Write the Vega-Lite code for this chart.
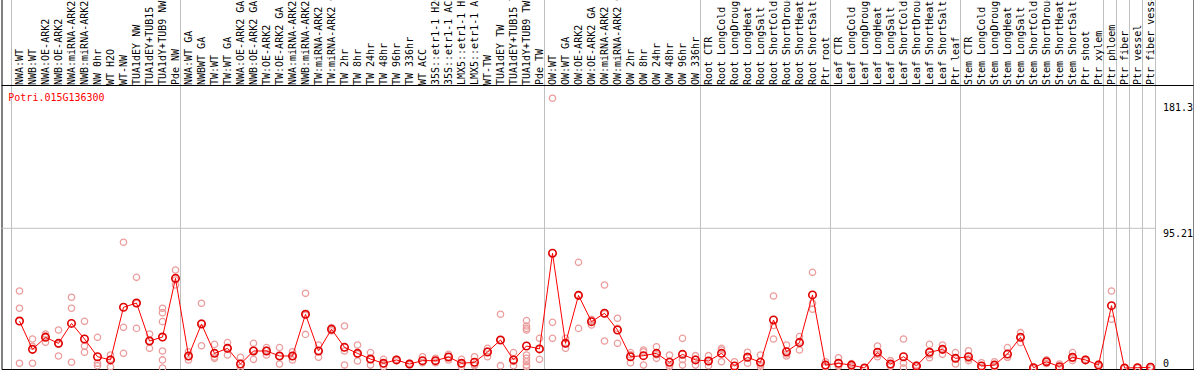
{
"$schema": "https://vega.github.io/schema/vega-lite/v6.json",
"width": 1192, "height": 370,
"autosize": {"type": "none"},
"padding": {"left": 1.5, "top": -1, "right": 0.5, "bottom": 1},
"background": "white",
"config": {"view": {"stroke": "black", "strokeWidth": 1, "fill": "white"}, "font": "DejaVu Sans Mono"},
"title": {"text": "Potri.015G136300", "orient": "bottom", "anchor": "start", "frame": "group", "offset": -282, "dx": 6.8, "color": "#ff0000", "font": "DejaVu Sans Mono", "fontSize": 10, "fontWeight": "normal", "baseline": "top"},
"datasets": {
"bounds": [{"b":0},{"b":13},{"b":41},{"b":53},{"b":63},{"b":73},{"b":84},{"b":85},{"b":86},{"b":87},{"b":88}],
"means": [
{"s":"NWA:WT","v":32.0},{"s":"NWB:WT","v":12.7},{"s":"NWA:OE-ARK2","v":20.9},{"s":"NWB:OE-ARK2","v":16.8},{"s":"NWA:miRNA-ARK2","v":30.4},{"s":"NWB:miRNA-ARK2","v":19.8},{"s":"NW 0hr","v":7.7},{"s":"WT H2O","v":5.5},{"s":"WT-NW","v":41.4},{"s":"TUA1dEY NW","v":44.3},{"s":"TUA1dEY+TUB15 NW","v":18.4},{"s":"TUA1dY+TUB9 NW","v":21.1},{"s":"Pde NW","v":61.1},
{"s":"NWA:WT GA","v":8.2},{"s":"NWBWT GA","v":30.0},{"s":"TW:WT","v":10.0},{"s":"TW:WT GA","v":13.4},{"s":"NWA:OE-ARK2 GA","v":2.7},{"s":"NWB:OE-ARK2 GA","v":11.6},{"s":"TW:OE-ARK2","v":11.6},{"s":"TW:OE-ARK2 GA","v":8.2},{"s":"NWA:miRNA-ARK2 GA","v":8.2},{"s":"NWB:miRNA-ARK2 GA","v":36.6},{"s":"TW:miRNA-ARK2","v":11.6},{"s":"TW:miRNA-ARK2 GA","v":26.4},{"s":"TW 2hr","v":14.1},{"s":"TW 8hr","v":10.0},{"s":"TW 24hr","v":6.1},{"s":"TW 48hr","v":3.2},{"s":"TW 96hr","v":5.5},{"s":"TW 336hr","v":2.7},{"s":"WT ACC","v":5.0},{"s":"35S::etr1-1 H2O","v":5.0},{"s":"35S::etr1-1 ACC","v":7.5},{"s":"LMX5::etr1-1 H2O","v":3.2},{"s":"LMX5::etr1-1 ACC","v":3.9},{"s":"WT-TW","v":10.9},{"s":"TUA1dEY TW","v":19.1},{"s":"TUA1dEY+TUB15 TW","v":5.5},{"s":"TUA1dY+TUB9 TW","v":15.0},{"s":"Pde TW","v":13.0},
{"s":"OW:WT","v":78.2},{"s":"OW:WT GA","v":16.8},{"s":"OW:OE-ARK2","v":49.5},{"s":"OW:OE-ARK2 GA","v":31.6},{"s":"OW:miRNA-ARK2","v":37.3},{"s":"OW:miRNA-ARK2 GA","v":25.9},{"s":"OW 2hr","v":7.7},{"s":"OW 8hr","v":8.4},{"s":"OW 24hr","v":10.0},{"s":"OW 48hr","v":3.9},{"s":"OW 96hr","v":9.3},{"s":"OW 336hr","v":5.5},
{"s":"Root CTR","v":4.8},{"s":"Root LongCold","v":10.0},{"s":"Root LongDrought","v":1.4},{"s":"Root LongHeat","v":7.3},{"s":"Root LongSalt","v":3.9},{"s":"Root ShortCold","v":32.7},{"s":"Root ShortDrought","v":11.1},{"s":"Root ShortHeat","v":17.3},{"s":"Root ShortSalt","v":49.8},{"s":"Ptr root","v":2.0},
{"s":"Leaf CTR","v":3.2},{"s":"Leaf LongCold","v":2.0},{"s":"Leaf LongDrought","v":0},{"s":"Leaf LongHeat","v":10.7},{"s":"Leaf LongSalt","v":2.7},{"s":"Leaf ShortCold","v":7.7},{"s":"Leaf ShortDrought","v":1.4},{"s":"Leaf ShortHeat","v":10.7},{"s":"Leaf ShortSalt","v":12.7},{"s":"Ptr leaf","v":6.6},
{"s":"Stem CTR","v":7.7},{"s":"Stem LongCold","v":1.4},{"s":"Stem LongDrought","v":2.0},{"s":"Stem LongHeat","v":9.5},{"s":"Stem LongSalt","v":20.9},{"s":"Stem ShortCold","v":0.2},{"s":"Stem ShortDrought","v":4.3},{"s":"Stem ShortHeat","v":0.9},{"s":"Stem ShortSalt","v":7.3},{"s":"Ptr shoot","v":5.5},{"s":"Ptr xylem","v":2.0},
{"s":"Ptr phloem","v":42.5},{"s":"Ptr fiber","v":0},{"s":"Ptr vessel","v":0.2},{"s":"Ptr fiber vessel","v":0.5}
],
"reps": [
{"s":"NWA:WT","v":52.5},{"s":"NWA:WT","v":40.7},{"s":"NWA:WT","v":3.2},
{"s":"NWB:WT","v":19.8},{"s":"NWB:WT","v":14.8},{"s":"NWB:WT","v":3.2},
{"s":"NWA:OE-ARK2","v":23.2},{"s":"NWA:OE-ARK2","v":22.0},{"s":"NWA:OE-ARK2","v":17.5},
{"s":"NWB:OE-ARK2","v":25.9},{"s":"NWB:OE-ARK2","v":16.3},{"s":"NWB:OE-ARK2","v":8.2},
{"s":"NWA:miRNA-ARK2","v":48.2},{"s":"NWA:miRNA-ARK2","v":40.7},{"s":"NWA:miRNA-ARK2","v":3.9},
{"s":"NWB:miRNA-ARK2","v":31.8},{"s":"NWB:miRNA-ARK2","v":15.0},{"s":"NWB:miRNA-ARK2","v":10.7},
{"s":"NW 0hr","v":20.9},{"s":"NW 0hr","v":3.2},{"s":"NW 0hr","v":1.6},
{"s":"WT H2O","v":8.9},{"s":"WT H2O","v":5.9},{"s":"WT H2O","v":0.9},
{"s":"WT-NW","v":85.7},{"s":"WT-NW","v":27.7},{"s":"WT-NW","v":10.0},
{"s":"TUA1dEY NW","v":61.8},{"s":"TUA1dEY NW","v":44.0},{"s":"TUA1dEY NW","v":27.0},
{"s":"TUA1dEY+TUB15 NW","v":23.2},{"s":"TUA1dEY+TUB15 NW","v":18.4},{"s":"TUA1dEY+TUB15 NW","v":13.4},
{"s":"TUA1dY+TUB9 NW","v":40.7},{"s":"TUA1dY+TUB9 NW","v":37.7},{"s":"TUA1dY+TUB9 NW","v":31.6},{"s":"TUA1dY+TUB9 NW","v":11.6},{"s":"TUA1dY+TUB9 NW","v":5.5},{"s":"TUA1dY+TUB9 NW","v":0},
{"s":"Pde NW","v":66.8},{"s":"Pde NW","v":60.0},{"s":"Pde NW","v":56.6},
{"s":"NWA:WT GA","v":11.1},{"s":"NWA:WT GA","v":8.0},{"s":"NWA:WT GA","v":5.5},
{"s":"NWBWT GA","v":44.1},{"s":"NWBWT GA","v":30.7},{"s":"NWBWT GA","v":15.2},
{"s":"TW:WT","v":16.1},{"s":"TW:WT","v":7.5},{"s":"TW:WT","v":6.6},
{"s":"TW:WT GA","v":17.3},{"s":"TW:WT GA","v":14.0},{"s":"TW:WT GA","v":8.9},
{"s":"NWA:OE-ARK2 GA","v":7.3},{"s":"NWA:OE-ARK2 GA","v":0.5},{"s":"NWA:OE-ARK2 GA","v":0.3},
{"s":"NWB:OE-ARK2 GA","v":16.8},{"s":"NWB:OE-ARK2 GA","v":12.1},{"s":"NWB:OE-ARK2 GA","v":5.9},
{"s":"TW:OE-ARK2","v":13.9},{"s":"TW:OE-ARK2","v":12.0},{"s":"TW:OE-ARK2","v":8.9},
{"s":"TW:OE-ARK2 GA","v":13.9},{"s":"TW:OE-ARK2 GA","v":8.0},{"s":"TW:OE-ARK2 GA","v":2.7},
{"s":"NWA:miRNA-ARK2 GA","v":11.1},{"s":"NWA:miRNA-ARK2 GA","v":8.0},{"s":"NWA:miRNA-ARK2 GA","v":5.5},
{"s":"NWB:miRNA-ARK2 GA","v":50.9},{"s":"NWB:miRNA-ARK2 GA","v":36.0},{"s":"NWB:miRNA-ARK2 GA","v":22.9},
{"s":"TW:miRNA-ARK2","v":15.7},{"s":"TW:miRNA-ARK2","v":11.8},{"s":"TW:miRNA-ARK2","v":7.3},
{"s":"TW:miRNA-ARK2 GA","v":27.5},{"s":"TW:miRNA-ARK2 GA","v":26.4},{"s":"TW:miRNA-ARK2 GA","v":25.3},
{"s":"TW 2hr","v":28.6},{"s":"TW 2hr","v":11.6},{"s":"TW 2hr","v":2.0},
{"s":"TW 8hr","v":15.7},{"s":"TW 8hr","v":9.5},{"s":"TW 8hr","v":4.8},
{"s":"TW 24hr","v":10.5},{"s":"TW 24hr","v":5.8},{"s":"TW 24hr","v":2.0},
{"s":"TW 48hr","v":5.9},{"s":"TW 48hr","v":2.8},{"s":"TW 48hr","v":0.9},
{"s":"TW 96hr","v":6.0},{"s":"TW 96hr","v":5.5},{"s":"TW 96hr","v":5.0},
{"s":"TW 336hr","v":3.2},{"s":"TW 336hr","v":2.7},{"s":"TW 336hr","v":2.2},
{"s":"WT ACC","v":7.7},{"s":"WT ACC","v":3.8},{"s":"WT ACC","v":3.6},
{"s":"35S::etr1-1 H2O","v":6.6},{"s":"35S::etr1-1 H2O","v":4.8},{"s":"35S::etr1-1 H2O","v":3.6},
{"s":"35S::etr1-1 ACC","v":9.3},{"s":"35S::etr1-1 ACC","v":7.7},{"s":"35S::etr1-1 ACC","v":5.5},
{"s":"LMX5::etr1-1 H2O","v":5.9},{"s":"LMX5::etr1-1 H2O","v":2.8},{"s":"LMX5::etr1-1 H2O","v":0.9},
{"s":"LMX5::etr1-1 ACC","v":7.7},{"s":"LMX5::etr1-1 ACC","v":2.4},{"s":"LMX5::etr1-1 ACC","v":1.6},
{"s":"WT-TW","v":13.4},{"s":"WT-TW","v":11.6},{"s":"WT-TW","v":7.7},
{"s":"TUA1dEY TW","v":36.6},{"s":"TUA1dEY TW","v":19.1},{"s":"TUA1dEY TW","v":1.6},
{"s":"TUA1dEY+TUB15 TW","v":10.5},{"s":"TUA1dEY+TUB15 TW","v":4.4},{"s":"TUA1dEY+TUB15 TW","v":1.6},
{"s":"TUA1dY+TUB9 TW","v":32.3},{"s":"TUA1dY+TUB9 TW","v":28.6},{"s":"TUA1dY+TUB9 TW","v":27.0},{"s":"TUA1dY+TUB9 TW","v":25.9},{"s":"TUA1dY+TUB9 TW","v":8.9},{"s":"TUA1dY+TUB9 TW","v":6.6},{"s":"TUA1dY+TUB9 TW","v":4.3},{"s":"TUA1dY+TUB9 TW","v":2.0},{"s":"TUA1dY+TUB9 TW","v":0.9},
{"s":"Pde TW","v":20.2},{"s":"Pde TW","v":13.0},{"s":"Pde TW","v":5.9},
{"s":"OW:WT","v":183.8},{"s":"OW:WT","v":31.1},{"s":"OW:WT","v":20.2},
{"s":"OW:WT GA","v":20.2},{"s":"OW:WT GA","v":16.8},{"s":"OW:WT GA","v":13.4},
{"s":"OW:OE-ARK2","v":72.0},{"s":"OW:OE-ARK2","v":49.5},{"s":"OW:OE-ARK2","v":27.0},
{"s":"OW:OE-ARK2 GA","v":33.2},{"s":"OW:OE-ARK2 GA","v":32.3},{"s":"OW:OE-ARK2 GA","v":29.3},
{"s":"OW:miRNA-ARK2","v":56.6},{"s":"OW:miRNA-ARK2","v":37.0},{"s":"OW:miRNA-ARK2","v":18.4},
{"s":"OW:miRNA-ARK2 GA","v":33.9},{"s":"OW:miRNA-ARK2 GA","v":27.0},{"s":"OW:miRNA-ARK2 GA","v":16.8},
{"s":"OW 2hr","v":10.5},{"s":"OW 2hr","v":9.0},{"s":"OW 2hr","v":3.6},
{"s":"OW 8hr","v":12.3},{"s":"OW 8hr","v":11.0},{"s":"OW 8hr","v":2.0},
{"s":"OW 24hr","v":14.5},{"s":"OW 24hr","v":9.0},{"s":"OW 24hr","v":6.6},
{"s":"OW 48hr","v":8.9},{"s":"OW 48hr","v":1.9},{"s":"OW 48hr","v":0.9},
{"s":"OW 96hr","v":20.2},{"s":"OW 96hr","v":5.7},{"s":"OW 96hr","v":2.0},
{"s":"OW 336hr","v":8.4},{"s":"OW 336hr","v":6.1},{"s":"OW 336hr","v":2.0},
{"s":"Root CTR","v":8.4},{"s":"Root CTR","v":4.4},{"s":"Root CTR","v":1.6},
{"s":"Root LongCold","v":13.4},{"s":"Root LongCold","v":12.3},{"s":"Root LongCold","v":4.3},
{"s":"Root LongDrought","v":4.3},{"s":"Root LongDrought","v":0},{"s":"Root LongDrought","v":0},
{"s":"Root LongHeat","v":10.7},{"s":"Root LongHeat","v":8.0},{"s":"Root LongHeat","v":3.2},
{"s":"Root LongSalt","v":8.9},{"s":"Root LongSalt","v":2.0},{"s":"Root LongSalt","v":0.8},
{"s":"Root ShortCold","v":49.1},{"s":"Root ShortCold","v":29.0},{"s":"Root ShortCold","v":19.8},
{"s":"Root ShortDrought","v":15.7},{"s":"Root ShortDrought","v":9.5},{"s":"Root ShortDrought","v":8.2},
{"s":"Root ShortHeat","v":21.4},{"s":"Root ShortHeat","v":18.2},{"s":"Root ShortHeat","v":12.3},
{"s":"Root ShortSalt","v":65.2},{"s":"Root ShortSalt","v":44.1},{"s":"Root ShortSalt","v":40.0},
{"s":"Ptr root","v":4.3},{"s":"Ptr root","v":1.0},{"s":"Ptr root","v":0.7},
{"s":"Leaf CTR","v":7.0},{"s":"Leaf CTR","v":1.5},{"s":"Leaf CTR","v":1.1},
{"s":"Leaf LongCold","v":3.0},{"s":"Leaf LongCold","v":2.0},{"s":"Leaf LongCold","v":1.0},
{"s":"Leaf LongDrought","v":0.2},{"s":"Leaf LongDrought","v":0},{"s":"Leaf LongDrought","v":0},
{"s":"Leaf LongHeat","v":15.0},{"s":"Leaf LongHeat","v":9.4},{"s":"Leaf LongHeat","v":7.7},
{"s":"Leaf LongSalt","v":5.0},{"s":"Leaf LongSalt","v":2.0},{"s":"Leaf LongSalt","v":1.1},
{"s":"Leaf ShortCold","v":19.8},{"s":"Leaf ShortCold","v":3.3},{"s":"Leaf ShortCold","v":0},
{"s":"Leaf ShortDrought","v":2.0},{"s":"Leaf ShortDrought","v":1.4},{"s":"Leaf ShortDrought","v":0.8},
{"s":"Leaf ShortHeat","v":16.1},{"s":"Leaf ShortHeat","v":9.0},{"s":"Leaf ShortHeat","v":7.0},
{"s":"Leaf ShortSalt","v":15.7},{"s":"Leaf ShortSalt","v":13.1},{"s":"Leaf ShortSalt","v":9.3},
{"s":"Ptr leaf","v":10.5},{"s":"Ptr leaf","v":6.6},{"s":"Ptr leaf","v":2.7},
{"s":"Stem CTR","v":11.8},{"s":"Stem CTR","v":6.3},{"s":"Stem CTR","v":5.0},
{"s":"Stem LongCold","v":3.6},{"s":"Stem LongCold","v":0.4},{"s":"Stem LongCold","v":0.2},
{"s":"Stem LongDrought","v":4.3},{"s":"Stem LongDrought","v":1.0},{"s":"Stem LongDrought","v":0.7},
{"s":"Stem LongHeat","v":13.9},{"s":"Stem LongHeat","v":7.3},{"s":"Stem LongHeat","v":7.3},
{"s":"Stem LongSalt","v":24.1},{"s":"Stem LongSalt","v":21.3},{"s":"Stem LongSalt","v":17.3},
{"s":"Stem ShortCold","v":0.5},{"s":"Stem ShortCold","v":0},{"s":"Stem ShortCold","v":0},
{"s":"Stem ShortDrought","v":5.5},{"s":"Stem ShortDrought","v":4.3},{"s":"Stem ShortDrought","v":3.1},
{"s":"Stem ShortHeat","v":2.7},{"s":"Stem ShortHeat","v":0},{"s":"Stem ShortHeat","v":0},
{"s":"Stem ShortSalt","v":10.5},{"s":"Stem ShortSalt","v":6.4},{"s":"Stem ShortSalt","v":5.0},
{"s":"Ptr shoot","v":6.0},{"s":"Ptr shoot","v":5.0},
{"s":"Ptr xylem","v":2.7},{"s":"Ptr xylem","v":1.3},
{"s":"Ptr phloem","v":52.5},{"s":"Ptr phloem","v":33.2},
{"s":"Ptr fiber","v":0},{"s":"Ptr fiber","v":0},
{"s":"Ptr vessel","v":0.4},{"s":"Ptr vessel","v":0},
{"s":"Ptr fiber vessel","v":1.0},{"s":"Ptr fiber vessel","v":0}
]
},
"layer": [
{
"layer": [
{"data": {"name": "bounds"}, "mark": {"type": "rule", "color": "#c0c0c0", "strokeWidth": 1},
 "encoding": {"x": {"field": "b", "type": "quantitative", "scale": {"domain": [-0.76923, 90.92308], "nice": false, "zero": false}, "axis": null}}},
{"data": {"values": [{}]}, "mark": {"type": "rule", "color": "#c0c0c0", "strokeWidth": 1},
 "encoding": {"x": {"datum": -0.76923, "type": "quantitative", "scale": {"domain": [-0.76923, 90.92308], "nice": false, "zero": false}, "axis": null}, "x2": {"datum": 88}, "y": {"datum": 95.21, "type": "quantitative", "scale": {"domain": [-0.68, 251.48], "nice": false, "zero": false}}}},
{"data": {"values": [{}]}, "mark": {"type": "rule", "color": "black", "strokeWidth": 1},
 "encoding": {"y": {"datum": 192.53, "type": "quantitative", "scale": {"domain": [-0.68, 251.48], "nice": false, "zero": false}}}}
]
},
{
"encoding": {
 "x": {"field": "s", "type": "nominal", "sort": null,
   "scale": {"type": "point", "padding": 0, "range": [18, 1149], "domain": ["NWA:WT","NWB:WT","NWA:OE-ARK2","NWB:OE-ARK2","NWA:miRNA-ARK2","NWB:miRNA-ARK2","NW 0hr","WT H2O","WT-NW","TUA1dEY NW","TUA1dEY+TUB15 NW","TUA1dY+TUB9 NW","Pde NW","NWA:WT GA","NWBWT GA","TW:WT","TW:WT GA","NWA:OE-ARK2 GA","NWB:OE-ARK2 GA","TW:OE-ARK2","TW:OE-ARK2 GA","NWA:miRNA-ARK2 GA","NWB:miRNA-ARK2 GA","TW:miRNA-ARK2","TW:miRNA-ARK2 GA","TW 2hr","TW 8hr","TW 24hr","TW 48hr","TW 96hr","TW 336hr","WT ACC","35S::etr1-1 H2O","35S::etr1-1 ACC","LMX5::etr1-1 H2O","LMX5::etr1-1 ACC","WT-TW","TUA1dEY TW","TUA1dEY+TUB15 TW","TUA1dY+TUB9 TW","Pde TW","OW:WT","OW:WT GA","OW:OE-ARK2","OW:OE-ARK2 GA","OW:miRNA-ARK2","OW:miRNA-ARK2 GA","OW 2hr","OW 8hr","OW 24hr","OW 48hr","OW 96hr","OW 336hr","Root CTR","Root LongCold","Root LongDrought","Root LongHeat","Root LongSalt","Root ShortCold","Root ShortDrought","Root ShortHeat","Root ShortSalt","Ptr root","Leaf CTR","Leaf LongCold","Leaf LongDrought","Leaf LongHeat","Leaf LongSalt","Leaf ShortCold","Leaf ShortDrought","Leaf ShortHeat","Leaf ShortSalt","Ptr leaf","Stem CTR","Stem LongCold","Stem LongDrought","Stem LongHeat","Stem LongSalt","Stem ShortCold","Stem ShortDrought","Stem ShortHeat","Stem ShortSalt","Ptr shoot","Ptr xylem","Ptr phloem","Ptr fiber","Ptr vessel","Ptr fiber vessel"]},
   "axis": {"orient": "top", "title": null, "labelAngle": -90, "labelAlign": "left", "labelBaseline": "middle", "labelPadding": -85.5, "ticks": false, "tickSize": 0, "domain": false, "grid": false, "labelFont": "DejaVu Sans Mono", "labelFontSize": 10, "labelColor": "black", "labelOverlap": false, "labelBound": false, "labelFlush": false, "labelLimit": 0, "zindex": 1}},
 "y": {"field": "v", "type": "quantitative",
   "scale": {"domain": [-0.68, 251.48], "nice": false, "zero": false},
   "axis": {"orient": "right", "values": [0, 95.21, 181.3], "title": null, "ticks": false, "tickSize": 0, "domain": false, "grid": false, "labelPadding": -31, "labelAlign": "left",
     "labelExpr": "format(datum.value, '.4~g')",
     "labelBaseline": {"expr": "datum.value === 0 ? 'alphabetic' : 'top'"},
     "labelOffset": {"expr": "datum.value === 0 ? -2 : 0.6"},
     "labelFont": "DejaVu Sans Mono", "labelFontSize": 10, "labelColor": "black", "labelFlush": false, "labelOverlap": false, "labelBound": false, "zindex": 2}}
},
"layer": [
 {"data": {"name": "reps"}, "mark": {"type": "point", "shape": "circle", "filled": false, "size": 40, "color": "#eb9c9c", "strokeWidth": 1.3, "opacity": 1}},
 {"data": {"name": "means"}, "mark": {"type": "line", "color": "#ff0000", "strokeWidth": 1}},
 {"data": {"name": "means"}, "mark": {"type": "point", "shape": "circle", "filled": false, "size": 55, "color": "#e00000", "strokeWidth": 1.6, "opacity": 1}}
]
}
],
"resolve": {"scale": {"x": "independent"}, "axis": {"x": "independent"}}
}
